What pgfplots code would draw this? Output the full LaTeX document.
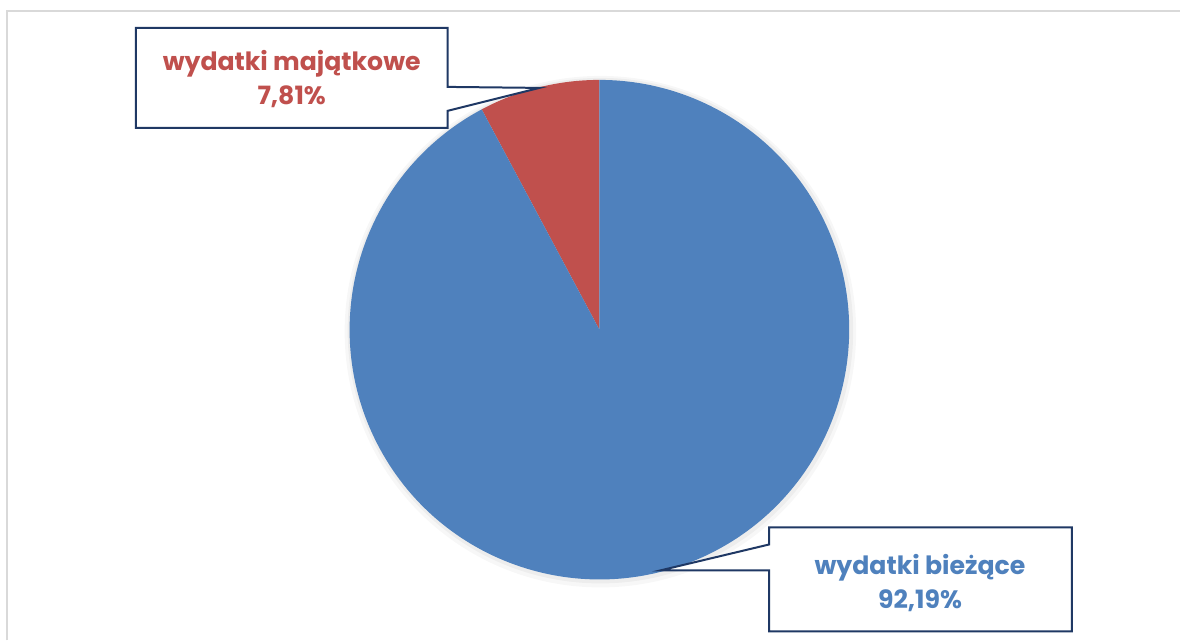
\documentclass[border=0pt]{standalone}
\usepackage{pgfplots}
\pgfplotsset{compat=1.18}
\usepackage{fontspec}
\setmainfont{Poppins}

\definecolor{serieblue}{HTML}{4F81BD}
\definecolor{seriered}{HTML}{C0504D}
\definecolor{boxnavy}{HTML}{1F3864}
\definecolor{framegray}{HTML}{D9D9D9}

% shares in percent
\def\valCurrent{92.19}
\def\valAsset{7.81}

\begin{document}
\begin{tikzpicture}
\begin{axis}[
  x=0.5pt, y=0.5pt,
  xmin=0, xmax=1181, ymin=0, ymax=641,
  hide axis, clip=false,
  anchor=origin, at={(0,0)},
]
  % frame
  \draw[framegray, line width=1.2pt] (axis cs:7,0) -- (axis cs:7,630) -- (axis cs:1181,630);

  % pie, centre (600,311), radius 250 px = 125pt
  \pgfmathsetmacro{\angA}{90+\valAsset*3.6}
  \fill[black, opacity=0.03] (axis cs:601,309) circle[radius=128pt];
  \fill[black, opacity=0.04] (axis cs:601,310) circle[radius=126.5pt];
  \fill[seriered] (axis cs:600,311) -- ++(90:125pt) arc[start angle=90, end angle=\angA, radius=125pt] -- cycle;
  \fill[serieblue] (axis cs:600,311) -- ++(\angA:125pt) arc[start angle=\angA, end angle=450, radius=125pt] -- cycle;

  % callout: wydatki majatkowe
  \draw[boxnavy, line width=1pt, fill=white]
    (axis cs:136,613) -- (axis cs:448,613) -- (axis cs:448,554) -- (axis cs:540,553)
    -- (axis cs:448,530) -- (axis cs:448,513) -- (axis cs:136,513) -- cycle;
  \node[seriered, font=\fontsize{12.6}{17}\selectfont\bfseries, align=center]
    at (axis cs:292,562) {wydatki majątkowe\\7,81\%};

  % callout: wydatki biezace
  \draw[boxnavy, line width=1pt, fill=white]
    (axis cs:770,113) -- (axis cs:1073,113) -- (axis cs:1073,9) -- (axis cs:770,9)
    -- (axis cs:770,70) -- (axis cs:661,70) -- (axis cs:770,96) -- cycle;
  \node[serieblue, font=\fontsize{12.6}{17}\selectfont\bfseries, align=center]
    at (axis cs:921,57) {wydatki bieżące\\92,19\%};
\end{axis}
\useasboundingbox (0,0) rectangle (590.5pt,320.5pt);
\end{tikzpicture}
\end{document}
